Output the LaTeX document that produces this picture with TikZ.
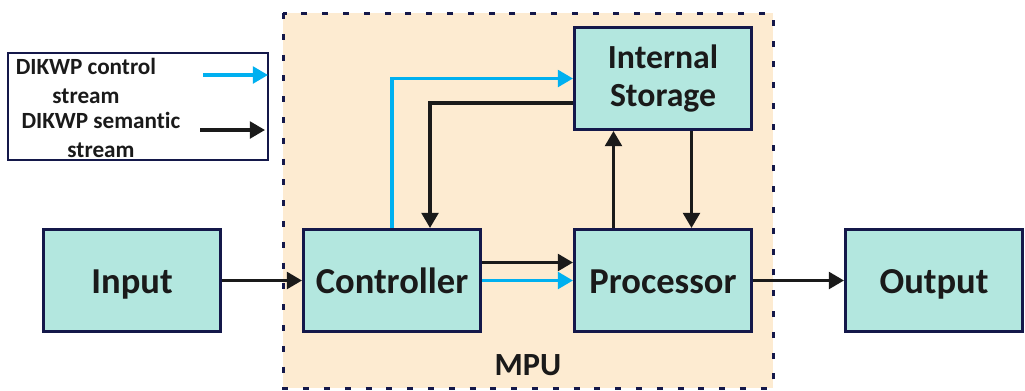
\documentclass[tikz,border=0pt]{standalone}
\usepackage{fontspec}
\setmainfont{Carlito}[Ligatures=CommonOff]
\usetikzlibrary{arrows.meta,positioning}
\definecolor{boxfill}{HTML}{B3E7DF}
\definecolor{mpufill}{HTML}{FDEBD1}
\definecolor{navy}{HTML}{14184A}
\definecolor{ctrlblue}{HTML}{00B0F0}
\definecolor{semblack}{HTML}{1A1A1A}

\begin{document}
\begin{tikzpicture}[
  block/.style={draw=navy,line width=0.075cm,fill=boxfill,minimum width=4.425cm,minimum height=2.55cm,
    font=\fontsize{26}{30}\selectfont\bfseries,text=semblack,text height=0.8cm,text depth=0.175cm},
  control/.style={draw=ctrlblue,line width=0.08cm,-{Triangle[length=0.38cm,width=0.42cm]}},
  semantic/.style={draw=semblack,line width=0.08cm,-{Triangle[length=0.38cm,width=0.42cm]}},
  legtext/.style={align=center,font=\fontsize{16.5}{20.5}\selectfont\bfseries,text=semblack}
]
\useasboundingbox (0,0) rectangle (25.625,-9.75);

% MPU area
\draw[navy,fill=mpufill,line width=0.075cm,dash pattern=on 0.15cm off 0.37cm] (7.075,-0.325) rectangle (19.325,-9.7);
\node[font=\fontsize{23}{27}\selectfont\bfseries,text=semblack] (mpu) at (13.2,-9.125) {MPU};

% legend
\draw[navy,line width=0.04cm] (0.2,-1.325) rectangle (6.7,-4.0);
\node[legtext] (ctrltext) at (2.15,-2.03) {DIKWP control\\stream};
\node[legtext] (semtext) at (2.525,-3.37) {DIKWP semantic\\stream};
\coordinate (ctrlA) at (5.075,-1.875);
\coordinate (ctrlB) at (6.7,-1.875);
\coordinate (semA) at (5.0,-3.25);
\coordinate (semB) at (6.625,-3.25);
\draw[control] (ctrlA) -- (ctrlB);
\draw[semantic] (semA) -- (semB);

% blocks
\node[block] (input) at (3.3,-7.0125) {Input};
\node[block,right=2cm of input] (controller) {Controller};
\node[block,right=2.275cm of controller] (processor) {Processor};
\node[block,right=2.275cm of processor] (output) {Output};
\node[block,above=2.425cm of processor,align=center,text height=,text depth=,
  font=\fontsize{24}{27}\selectfont\bfseries] (storage) {Internal\\Storage};

% streams
\draw[semantic] (input) -- (controller);
\draw[semantic] ([yshift=0.45cm]controller.east) -- ([yshift=0.45cm]processor.west);
\draw[control] (controller.east) -- (processor.west);
\draw[semantic] (processor) -- (output);
\draw[semantic] ([xshift=-1.2375cm]processor.north) -- ([xshift=-1.2375cm]storage.south);
\draw[semantic] ([xshift=0.7125cm]storage.south) -- ([xshift=0.7125cm]processor.north);
\draw[control] (controller.north) |- (storage.west);
\draw[semantic] ([yshift=-0.6125cm]storage.west) -| ([xshift=0.95cm]controller.north);
\end{tikzpicture}
\end{document}
